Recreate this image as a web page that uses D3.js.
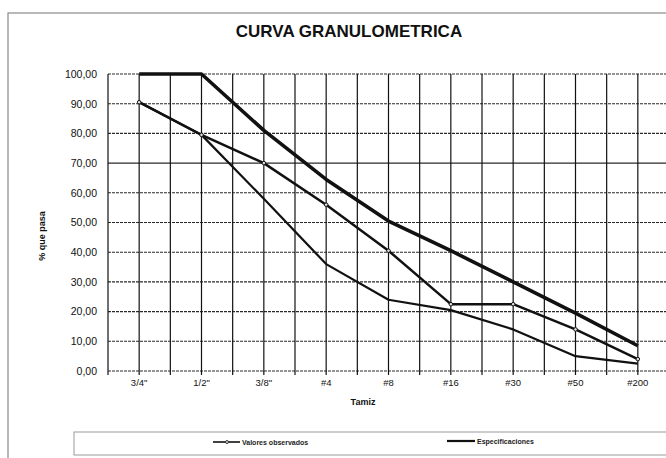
<!DOCTYPE html>
<html>
<head>
<meta charset="utf-8">
<script src="https://cdn.jsdelivr.net/npm/d3@7"></script>
<style>
  html, body { margin: 0; padding: 0; background: #fff; }
  svg { display: block; font-family: Arial, "Liberation Sans", sans-serif; }
</style>
</head>
<body>
<svg id="chart" width="666" height="458"></svg>
<script>
// Sieve sizes (categories along the x axis)
const tamices = ['3/4"', '1/2"', '3/8"', '#4', '#8', '#16', '#30', '#50', '#200'];

// Percentage passing for each sieve
const especSuperior = [100, 100, 81, 64.5, 50.5, 40.5, 30, 19.5, 8.5];
const valoresObservados = [90.5, 79.5, 70, 56, 40.5, 22.5, 22.5, 14, 4];
const especInferior = [90.5, 79.5, 58, 36, 24, 20.5, 14, 5, 2.5];

// Y axis ticks
const yTicks = [0, 10, 20, 30, 40, 50, 60, 70, 80, 90, 100];

const titulo = "CURVA GRANULOMETRICA";
const tituloY = "% que pasa";
const tituloX = "Tamiz";
const leyenda = ["Valores observados", "Especificaciones"];

const svg = d3.select("#chart");
const W = 666, H = 458;
const plot = { left: 108, right: 669, top: 74, bottom: 371 };

const x = d3.scaleBand().domain(tamices).range([plot.left, plot.right]).padding(0);
const y = d3.scaleLinear().domain([0, 100]).range([plot.bottom, plot.top]);
const cx = d => x(d) + x.bandwidth() / 2;

// Outer chart frame
svg.append("rect")
  .attr("x", 8).attr("y", 13).attr("width", W + 20).attr("height", H + 20)
  .attr("fill", "none").attr("stroke", "#8a8a8a").attr("stroke-width", 1.2);

// Title
svg.append("text")
  .attr("x", 349).attr("y", 37)
  .attr("text-anchor", "middle")
  .attr("font-size", 17).attr("font-weight", "bold")
  .attr("fill", "#111")
  .text(titulo);

const g = svg.append("g");

// Horizontal gridlines
g.append("g").selectAll("line").data(yTicks).join("line")
  .attr("x1", plot.left).attr("x2", W)
  .attr("y1", d => y(d)).attr("y2", d => y(d))
  .attr("stroke", "#2a2a2a").attr("stroke-width", 1.1)
  .attr("stroke-dasharray", d => d === 70 ? null : "3,1");

// Vertical gridlines: at band edges and band centres
const vLines = [];
tamices.forEach(t => { vLines.push(x(t)); vLines.push(cx(t)); });
vLines.push(plot.right);
g.append("g").selectAll("line").data(vLines.filter(v => v <= W)).join("line")
  .attr("x1", d => d).attr("x2", d => d)
  .attr("y1", plot.top).attr("y2", plot.bottom + 4)
  .attr("stroke", "#111").attr("stroke-width", 1.2);

// Y axis labels
const yAxis = d3.axisLeft(y).tickValues(yTicks)
  .tickFormat(d => d3.format(".2f")(d).replace(".", ","))
  .tickSize(0).tickPadding(11);
g.append("g").attr("transform", `translate(${plot.left},0)`).call(yAxis)
  .call(s => s.select(".domain").remove())
  .call(s => s.selectAll("text").attr("font-size", 10.5).attr("fill", "#111")
    .attr("font-family", "Arial, 'Liberation Sans', sans-serif"));

// X axis labels
const xAxis = d3.axisBottom(x).tickSize(0).tickPadding(8);
g.append("g").attr("transform", `translate(0,${plot.bottom})`).call(xAxis)
  .call(s => s.select(".domain").remove())
  .call(s => s.selectAll("text").attr("font-size", 9.5).attr("fill", "#111")
    .attr("font-family", "Arial, 'Liberation Sans', sans-serif"));

// Axis titles
svg.append("text")
  .attr("transform", "translate(45,236) rotate(-90)")
  .attr("text-anchor", "middle")
  .attr("font-size", 9).attr("font-weight", "bold").attr("fill", "#111")
  .text(tituloY);
svg.append("text")
  .attr("x", 363).attr("y", 405)
  .attr("text-anchor", "middle")
  .attr("font-size", 9).attr("font-weight", "bold").attr("fill", "#111")
  .text(tituloX);

// Curves
const line = d3.line().x(d => cx(d.t)).y(d => y(d.v));
const toPts = arr => arr.map((v, i) => ({ t: tamices[i], v }));

g.append("path").datum(toPts(especInferior))
  .attr("d", line).attr("fill", "none")
  .attr("stroke", "#111").attr("stroke-width", 2.2).attr("stroke-linejoin", "round");

g.append("path").datum(toPts(valoresObservados))
  .attr("d", line).attr("fill", "none")
  .attr("stroke", "#111").attr("stroke-width", 2.5).attr("stroke-linejoin", "round");

g.append("path").datum(toPts(especSuperior))
  .attr("d", line).attr("fill", "none")
  .attr("stroke", "#111").attr("stroke-width", 3.6).attr("stroke-linejoin", "round");

g.append("g").selectAll("circle").data(toPts(valoresObservados)).join("circle")
  .attr("cx", d => cx(d.t)).attr("cy", d => y(d.v)).attr("r", 1.8)
  .attr("fill", "#ddd").attr("stroke", "#111").attr("stroke-width", 1);

// Legend
const lg = svg.append("g");
lg.append("rect")
  .attr("x", 74).attr("y", 432).attr("width", 620).attr("height", 23)
  .attr("fill", "none").attr("stroke", "#9a9a9a").attr("stroke-width", 1);

lg.append("line").attr("x1", 213).attr("x2", 240).attr("y1", 442).attr("y2", 442)
  .attr("stroke", "#111").attr("stroke-width", 1.6);
lg.append("circle").attr("cx", 227).attr("cy", 442).attr("r", 1.5)
  .attr("fill", "#ddd").attr("stroke", "#111").attr("stroke-width", 0.8);
lg.append("text").attr("x", 242).attr("y", 444.5)
  .attr("font-size", 7).attr("font-weight", "bold").attr("fill", "#222")
  .text(leyenda[0]);

lg.append("line").attr("x1", 447).attr("x2", 475).attr("y1", 441).attr("y2", 441)
  .attr("stroke", "#111").attr("stroke-width", 2.2);
lg.append("text").attr("x", 477).attr("y", 443.5)
  .attr("font-size", 7).attr("font-weight", "bold").attr("fill", "#222")
  .text(leyenda[1]);
</script>
</body>
</html>
